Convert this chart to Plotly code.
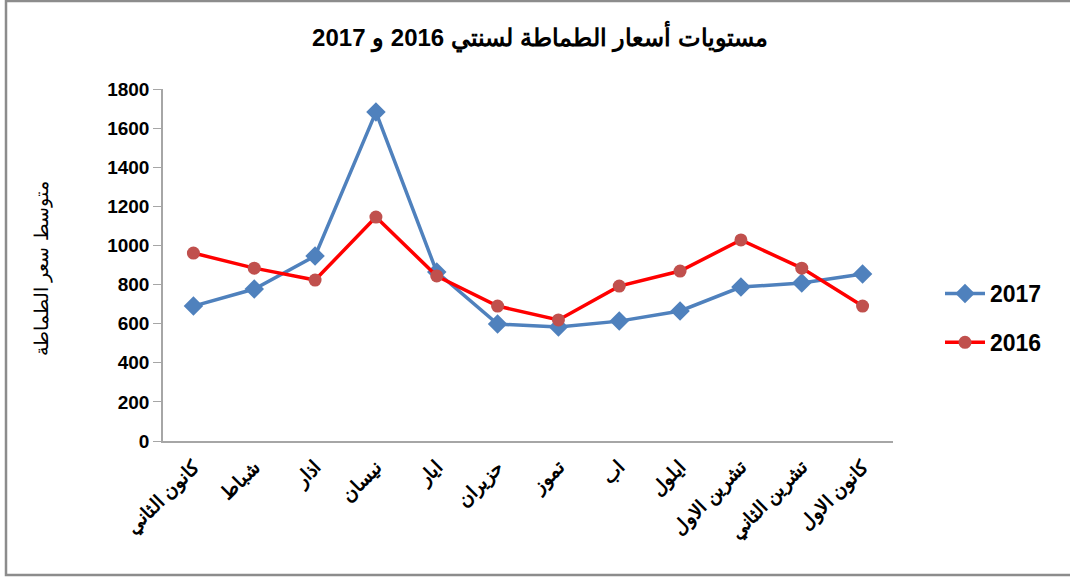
import plotly.graph_objects as go

months = ["كانون الثاني", "شباط", "اذار", "نيسان", "ايار", "حزيران", "تموز",
          "اب", "ايلول", "تشرين الاول", "تشرين الثاني", "كانون الاول"]
v2017 = [690, 777, 946, 1682, 864, 598, 583, 613, 665, 787, 808, 854]
v2016 = [961, 884, 823, 1145, 844, 690, 619, 792, 869, 1028, 884, 690]
yticks = [0, 200, 400, 600, 800, 1000, 1200, 1400, 1600, 1800]

W, H = 1070, 579
L, R, T, B = 163, 1070 - 893, 89, 579 - 441
pw, ph = W - L - R, H - T - B

def px(x):
    return (x - L) / pw

def py(y):
    return (H - B - y) / ph

fig = go.Figure()
fig.add_trace(go.Scatter(
    x=months, y=v2017, name="<b>2017</b>", mode="lines+markers", legendgroup="a",
    line=dict(color="#4F81BD", width=3.5),
    marker=dict(symbol="diamond", size=15, color="#4F81BD"),
))
fig.add_trace(go.Scatter(
    x=months, y=v2016, name="<b>2016</b>", mode="lines+markers", legendgroup="b",
    line=dict(color="#FF0000", width=3.5),
    marker=dict(symbol="circle", size=13, color="#C0504D"),
))

fig.update_layout(
    width=W, height=H,
    margin=dict(l=L, r=R, t=T, b=B, autoexpand=False),
    paper_bgcolor="white", plot_bgcolor="white",
    font=dict(family="Liberation Sans, Arial, sans-serif", color="black"),
    title=dict(text="<b>مستويات أسعار الطماطة لسنتي 2016 و 2017</b>",
               x=540 / W, xanchor="center", y=1 - 38 / H, yanchor="middle",
               font=dict(size=24, color="black")),
    showlegend=True,
    legend=dict(x=px(940), xanchor="left", y=py(318), yanchor="middle",
                font=dict(size=23, color="black"), tracegroupgap=16,
                bgcolor="rgba(0,0,0,0)", itemwidth=40),
    xaxis=dict(type="category", range=[-0.5, 11.5], showgrid=False,
               showline=True, linecolor="#A6A6A6", linewidth=1.5,
               ticks="", tickangle=-45, ticklabelstandoff=6,
               tickfont=dict(size=19, family="Liberation Sans, Arial", color="black"),
               tickmode="array", tickvals=months,
               ticktext=["<b>" + m + "</b>" for m in months]),
    yaxis=dict(range=[0, 1800], showgrid=False, zeroline=False,
               showline=True, linecolor="#A6A6A6", linewidth=1.5,
               ticks="outside", ticklen=8, tickcolor="#A6A6A6",
               tickmode="array", tickvals=yticks,
               ticktext=["<b>%d</b>" % v for v in yticks],
               tickfont=dict(size=19, color="black")),
    annotations=[dict(text="متوسط سعر الطماطة", textangle=-90,
                      xref="paper", yref="paper", x=px(42), y=py(268),
                      xanchor="center", yanchor="middle", showarrow=False,
                      font=dict(size=19, color="black"))],
    shapes=[dict(type="rect", xref="paper", yref="paper",
                 x0=px(6), x1=px(1090), y0=py(1), y1=py(575),
                 line=dict(color="#8C8C8C", width=2.5), layer="below")],
)

fig.write_html("out.html", config={"displayModeBar": False},
               post_script="document.body.style.margin='0';")
